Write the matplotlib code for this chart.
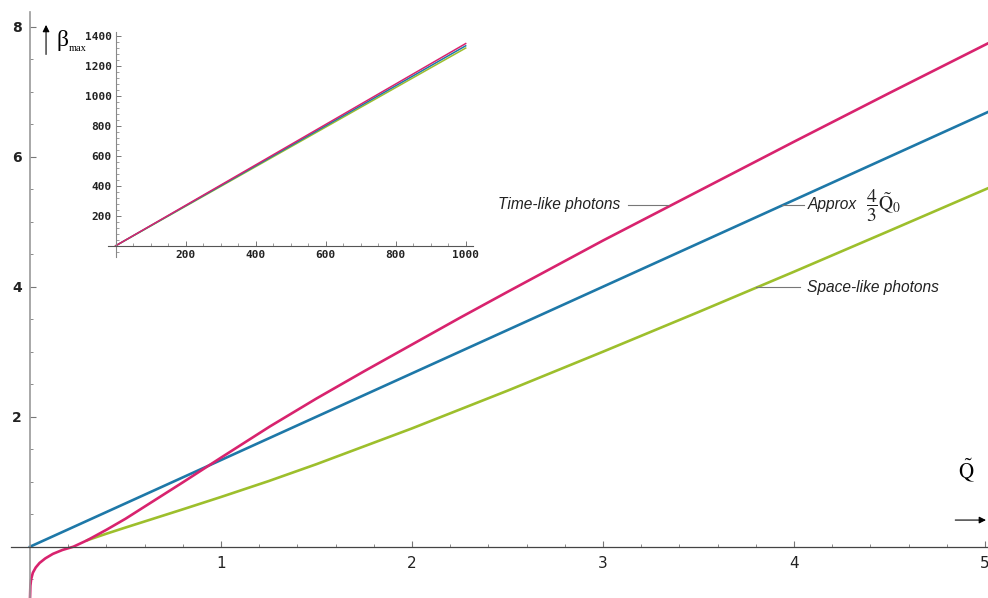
import numpy as np
import matplotlib.pyplot as plt
from matplotlib.ticker import MultipleLocator

plt.rcParams['mathtext.fontset'] = 'stix'

# time-like photons (main plot)
q_time = [0.0, 0.002, 0.006, 0.015, 0.03, 0.05, 0.08, 0.12, 0.17, 0.227, 0.3, 0.4,
          0.5, 0.65, 0.8, 0.9, 1.0, 1.256, 1.5, 1.75, 2.0, 2.25, 2.5, 3.0, 3.5, 4.0,
          4.5, 5.02]
beta_time = [-0.8, -0.6, -0.5, -0.4, -0.32, -0.25, -0.18, -0.11, -0.05, 0.0, 0.1, 0.26,
             0.43, 0.71, 0.99, 1.18, 1.37, 1.85, 2.28, 2.7, 3.11, 3.52, 3.92, 4.71, 5.47,
             6.23, 6.98, 7.75]

# space-like photons
q_space = [0.3, 0.4, 0.5, 0.65, 0.8, 1.0, 1.25, 1.5, 2.0, 2.5, 3.0, 3.5, 4.0, 4.5, 5.02]
beta_space = [0.1, 0.2, 0.295, 0.435, 0.575, 0.765, 1.01, 1.27, 1.82, 2.4, 3.0, 3.61,
              4.23, 4.86, 5.52]

# approx 4/3 Q0
q_approx = [0.0, 5.02]
beta_approx = [0.0, 6.693]

# inset: large Q
q_big = [0, 1000]
beta_big_time = [0, 1348]
beta_big_approx = [0, 1333]
beta_big_space = [0, 1318]

c_time = '#D8236E'
c_approx = '#1E78A8'
c_space = '#9DBF2C'

fig = plt.figure(figsize=(9.88, 5.98), dpi=100)
ax = fig.add_axes([10.9 / 988, 0.0, 977.1 / 988, 586 / 598])
ax.set_xlim(-0.1, 5.016)
ax.set_ylim(-0.789, 8.226)

ax.plot(q_approx, beta_approx, color=c_approx, lw=1.9)
ax.plot(q_space, beta_space, color=c_space, lw=1.9)
ax.plot(q_time, beta_time, color=c_time, lw=1.9)

for s in ['top', 'right']:
    ax.spines[s].set_visible(False)
ax.spines['left'].set_position(('data', 0))
ax.spines['bottom'].set_position(('data', 0))
ax.spines['left'].set_color('#999999')
ax.spines['bottom'].set_color('#444444')
ax.spines['left'].set_linewidth(1.2)
ax.spines['bottom'].set_linewidth(0.9)

ax.xaxis.set_minor_locator(MultipleLocator(0.2))
ax.yaxis.set_minor_locator(MultipleLocator(0.5))
ax.set_xticks([1, 2, 3, 4, 5])
ax.set_yticks([2, 4, 6, 8])
ax.tick_params(which='both', direction='in', colors='#777777')
ax.tick_params(which='major', length=4, width=0.8)
ax.tick_params(which='minor', length=2.5, width=0.6)
ax.tick_params(axis='x', labelcolor='#222222', labelsize=11, pad=7)
ax.tick_params(axis='y', labelcolor='#222222', labelsize=10, pad=6)
for lab in ax.get_yticklabels():
    lab.set_fontweight('bold')

# axis labels with arrows
ax.annotate('', xy=(0.084, 8.07), xytext=(0.084, 7.53), annotation_clip=False,
            arrowprops=dict(arrowstyle='-|>', color='black', lw=0.8, mutation_scale=10))
ax.text(0.138, 7.79, 'β', family='Liberation Serif', fontsize=17, va='center', ha='left')
ax.text(0.202, 7.66, 'max', family='Liberation Serif', fontsize=7.5, va='center', ha='left')
ax.annotate('', xy=(5.02, 0.41), xytext=(4.83, 0.41), annotation_clip=False,
            arrowprops=dict(arrowstyle='-|>', color='black', lw=0.8, mutation_scale=10))
ax.text(4.905, 1.18, r'$\tilde{\mathrm{Q}}$', fontsize=15, va='center', ha='center')

# curve labels
lab_font = dict(family='Liberation Sans', style='italic', fontsize=11.2, color='#222222')
ax.plot([3.13, 3.34], [5.26, 5.26], color='#777777', lw=0.8)
ax.text(3.09, 5.26, 'Time-like photons', ha='right', va='center', **lab_font)
ax.plot([3.94, 4.05], [5.26, 5.26], color='#777777', lw=0.8)
ax.text(4.07, 5.26, 'Approx', ha='left', va='center', **lab_font)
ax.text(4.375, 5.24, r'$\dfrac{4}{3}\tilde{\mathrm{Q}}_{0}$', ha='left', va='center',
        fontsize=14, color='#222222')
ax.plot([3.80, 4.03], [3.99, 3.99], color='#777777', lw=0.8)
ax.text(4.07, 3.99, 'Space-like photons', ha='left', va='center', **lab_font)

# inset
axi = fig.add_axes([108 / 988, 1 - 256.7 / 598, 364.7 / 988, 225 / 598])
axi.set_xlim(-22, 1020)
axi.set_ylim(-73, 1427)
axi.plot(q_big, beta_big_space, color=c_space, lw=1.1)
axi.plot(q_big, beta_big_approx, color=c_approx, lw=1.1)
axi.plot(q_big, beta_big_time, color=c_time, lw=1.1)
for s in ['top', 'right']:
    axi.spines[s].set_visible(False)
axi.spines['left'].set_position(('data', 0))
axi.spines['bottom'].set_position(('data', 0))
axi.spines['left'].set_color('#888888')
axi.spines['bottom'].set_color('#555555')
axi.set_xticks([200, 400, 600, 800, 1000])
axi.set_yticks([200, 400, 600, 800, 1000, 1200, 1400])
axi.xaxis.set_minor_locator(MultipleLocator(50))
axi.yaxis.set_minor_locator(MultipleLocator(40))
axi.tick_params(which='both', direction='in', colors='#777777')
axi.tick_params(which='major', length=3.5, width=0.7)
axi.tick_params(which='minor', length=2, width=0.5)
axi.tick_params(labelcolor='#222222', labelsize=8, pad=3)
for lab in axi.get_xticklabels() + axi.get_yticklabels():
    lab.set_family('DejaVu Sans Mono')
    lab.set_fontweight('bold')

fig.savefig('out.png', dpi=100)
